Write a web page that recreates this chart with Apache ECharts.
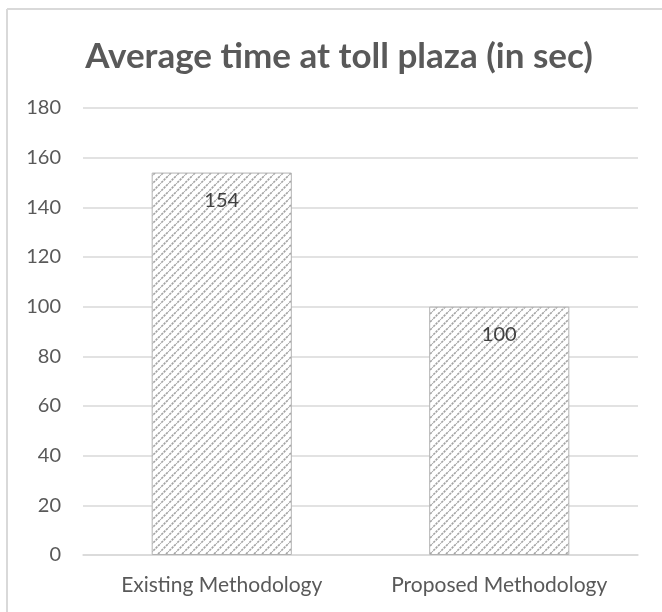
<!DOCTYPE html>
<html><head><meta charset="utf-8">
<script src="https://cdn.jsdelivr.net/npm/echarts@6/dist/echarts.min.js"></script>
<style>html,body{margin:0;padding:0;background:#fff}#c{width:662px;height:612px}</style>
</head><body><div id="c"></div>
<script>
const categories = ['Existing Methodology', 'Proposed Methodology'];
const values = [154, 100];
const yTicks = [0, 20, 40, 60, 80, 100, 120, 140, 160, 180];

function hatch() {
  const s = 8;
  const c = document.createElement('canvas');
  c.width = s; c.height = s;
  const g = c.getContext('2d');
  g.fillStyle = '#ffffff'; g.fillRect(0, 0, s, s);
  g.strokeStyle = '#a4a4a4'; g.lineWidth = 1.6;
  g.setLineDash([2.4, 0.9]);
  g.beginPath();
  g.moveTo(-1, s + 1); g.lineTo(s + 1, -1);
  g.moveTo(-2, 2); g.lineTo(2, -2);
  g.moveTo(s - 2, s + 2); g.lineTo(s + 2, s - 2);
  g.stroke();
  return c;
}

const chart = echarts.init(document.getElementById('c'), null, {renderer: 'canvas'});
const font = 'Lato, "Open Sans", sans-serif';
chart.setOption({
  animation: false,
  title: {
    text: 'Average time at toll plaza (in sec)',
    left: 334, top: 34, textAlign: 'center',
    textStyle: {fontFamily: font, fontWeight: 'bold', fontSize: 35, color: '#595959'}
  },
  grid: {left: 83, right: 24, top: 108, bottom: 57},
  xAxis: {
    type: 'category', data: categories,
    axisLine: {lineStyle: {color: '#d9d9d9', width: 1.5}},
    axisTick: {show: false},
    axisLabel: {fontFamily: font, fontSize: 21, color: '#595959', margin: 20, interval: 0, hideOverlap: false}
  },
  yAxis: {
    type: 'value', min: 0, max: 180, interval: 20,
    axisLine: {show: false}, axisTick: {show: false},
    splitLine: {lineStyle: {color: '#d9d9d9', width: 1.5}},
    axisLabel: {fontFamily: font, fontSize: 20, color: '#595959', margin: 22,
      formatter: v => yTicks.includes(v) ? String(v) : ''}
  },
  series: [{
    type: 'bar', data: values, barWidth: '50.5%',
    itemStyle: {color: {image: hatch(), repeat: 'repeat'}, borderColor: '#b3b3b3', borderWidth: 1},
    label: {show: true, position: 'insideTop', distance: 18, fontFamily: font, fontSize: 20, color: '#404040'}
  }],
  graphic: [
    {type: 'line', shape: {x1: 7, y1: 9, x2: 662, y2: 9}, style: {stroke: '#d9d9d9', lineWidth: 2}},
    {type: 'line', shape: {x1: 7, y1: 9, x2: 7, y2: 612}, style: {stroke: '#d9d9d9', lineWidth: 2}}
  ]
});
</script></body></html>
